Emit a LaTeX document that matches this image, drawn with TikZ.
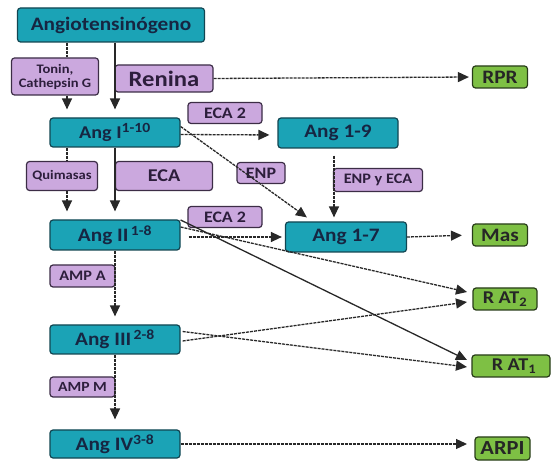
\documentclass[tikz,border=0pt]{standalone}
\usepackage{fontspec}
\setmainfont{Carlito}[FakeStretch=1.12]
\usetikzlibrary{arrows.meta,calc}
\definecolor{tealfill}{RGB}{27,163,182}
\definecolor{tealedge}{RGB}{18,70,82}
\definecolor{lilac}{RGB}{203,168,222}
\definecolor{lilacedge}{RGB}{60,45,70}
\definecolor{leaf}{RGB}{126,192,68}
\definecolor{leafedge}{RGB}{40,60,25}
\definecolor{navytext}{RGB}{22,38,66}
\definecolor{plumtext}{RGB}{45,30,60}
\definecolor{linegray}{RGB}{40,40,40}
\newcommand{\fs}[1]{\fontsize{#1}{#1}\selectfont}
\newcommand{\supx}[1]{\textsuperscript{\fs{14}#1}}
\newcommand{\subx}[1]{\textsubscript{\fs{13}#1}}
\begin{document}
\begin{tikzpicture}[x=1pt,y=-1pt,
  base/.style={rounded corners=3pt, line width=1.2pt, inner sep=0pt, font=\bfseries, align=center},
  angbox/.style={base, fill=tealfill, draw=tealedge, text=navytext, minimum width=130pt, minimum height=30pt, font=\bfseries\fs{19}},
  enzbox/.style={base, fill=lilac, draw=lilacedge, text=plumtext},
  recbox/.style={base, fill=leaf, draw=leafedge, text=black!85, minimum width=55pt, minimum height=22pt, font=\bfseries\fs{19}},
  conn/.style={line width=1.3pt, draw=linegray},
  dsh/.style={conn, dash pattern=on 3pt off 1pt},
  arr/.style={-{Triangle[length=11pt,width=10pt]}}
]
\useasboundingbox (0,0) rectangle (552,462);

% column guides
\coordinate (cL) at (67,0);
\coordinate (cR) at (115,0);
\coordinate (c19) at (334,0);
\coordinate (tipx) at (467,0);

% peptides
\node[angbox, minimum width=187pt, minimum height=34pt, font=\bfseries\fs{19}] (ango) at (111,25) {Angiotensinógeno};
\node[angbox, minimum height=29pt, font=\bfseries\fs{18}] (ang1) at (115,132.5) {Ang I\supx{1-10}};
\node[angbox, minimum width=120pt] (ang19) at (338,133) {Ang 1-9};
\node[angbox] (ang2) at (115,235) {Ang II\supx{\,1-8}};
\node[angbox, minimum width=121pt] (ang17) at (346,237) {Ang 1-7};
\node[angbox, minimum height=29pt] (ang3) at (115,339.5) {Ang III\supx{\,2-8}};
\node[angbox, minimum height=28pt] (ang4) at (115,444) {Ang IV\supx{3-8}};

% enzymes
\node[enzbox, minimum width=87pt, minimum height=37pt, font=\bfseries\fontsize{13}{14}\selectfont] (tonin) at (55,76.5) {Tonin,\\Cathepsin G};
\node[enzbox, minimum width=98pt, minimum height=27pt, font=\bfseries\fs{22}] (renina) at (164,78.5) {Renina};
\node[enzbox, minimum width=74pt, minimum height=21pt, font=\bfseries\fs{16}] (eca2a) at (225,113) {ECA 2};
\node[enzbox, minimum width=71pt, minimum height=29pt, font=\bfseries\fs{13}] (quim) at (62,176) {Quimasas};
\node[enzbox, minimum width=97pt, minimum height=29pt, font=\bfseries\fs{18}] (eca) at (164,176) {ECA};
\node[enzbox, minimum width=48pt, minimum height=21pt, font=\bfseries\fs{16}] (enp) at (261,173) {ENP};
\node[enzbox, minimum width=89pt, minimum height=23pt, font=\bfseries\fs{14.5}] (enpeca) at (378,180) {ENP y ECA};
\node[enzbox, minimum width=74pt, minimum height=21pt, font=\bfseries\fs{16}] (eca2b) at (225,217) {ECA 2};
\node[enzbox, minimum width=65pt, minimum height=22pt, font=\bfseries\fs{14.5}] (ampa) at (82.5,276) {AMP A};
\node[enzbox, minimum width=65pt, minimum height=20pt, font=\bfseries\fs{14}] (ampm) at (82.5,387) {AMP M};

% receptors
\node[recbox] (rpr) at (500,77) {RPR};
\node[recbox] (mas) at (500,235) {Mas};
\node[recbox, minimum width=64pt, font=\bfseries\fs{18}] (rat2) at (505,299) {R AT\subx{2}};
\node[recbox, minimum width=78pt, font=\bfseries\fs{18}] (rat1) at (511,366) {\hspace*{6pt}R AT\subx{1}};
\node[recbox, minimum height=23pt, font=\bfseries\fs{20}] (arpi) at (502.5,448.5) {ARPI};

% cascade down the left side
\draw[dsh] (ango.south -| cL) -- (tonin.north -| cL);
\draw[dsh, arr] (tonin.south -| cL) -- ($(ang1.north -| cL)+(0,-8)$);
\draw[conn, arr] (ango.south -| cR) -- ($(ang1.north -| cR)+(0,-8)$);
\draw[dsh] (ang1.south -| cL) -- (quim.north -| cL);
\draw[dsh, arr] (quim.south -| cL) -- ($(ang2.north -| cL)+(0,-8)$);
\draw[conn, arr] (ang1.south -| cR) -- ($(ang2.north -| cR)+(0,-8)$);
\draw[dsh, arr] (ang2.south -| cR) -- ($(ang3.north -| cR)+(0,-8)$);
\draw[dsh, arr] (ang3.south -| cR) -- ($(ang4.north -| cR)+(0,-10)$);

% side branches
\draw[dsh, arr, shorten >=3pt] (renina.east) -- (rpr.west);
\draw[dsh, arr, shorten >=8pt] ([yshift=-2pt]ang1.east) -- ([yshift=-2pt]ang19.west);
\draw[dsh, arr] ([yshift=6pt]ang1.east) -- ($(ang17.north west)+(22,-4)$);
\draw[dsh, arr] ($(ang19.south -| c19)+(0,7)$) -- ($(ang17.north -| c19)+(0,-4)$);
\draw[dsh, arr, shorten <=8pt, shorten >=3pt] ([yshift=-2pt]ang2.east) -- (ang17.west);
\draw[dsh, arr, shorten >=10pt] (ang17.east) -- (mas.west);
\draw[dsh, arr] (ang4.east) -- (ang4.east -| tipx);

% receptor fan-out
\draw[dsh, arr] ([yshift=8pt]ang2.east) -- ($(rat2.west -| tipx)+(0,-7)$);
\draw[conn, arr] ([yshift=15pt]ang2.east) -- ($(rat1.west -| tipx)+(0,-6)$);
\draw[dsh, arr] ([xshift=2pt,yshift=-1.5pt]ang3.east) -- ($(rat2.west -| tipx)+(0,3)$);
\draw[dsh, arr] ([xshift=2pt,yshift=8pt]ang3.east) -- ($(rat1.west -| tipx)+(0,1)$);
\end{tikzpicture}
\end{document}
